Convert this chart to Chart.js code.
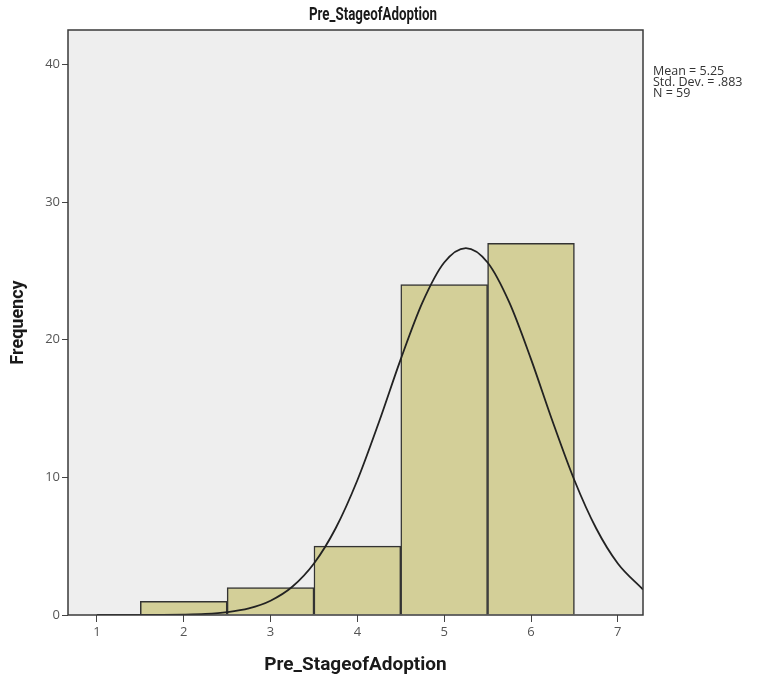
<!DOCTYPE html>
<html>
<head>
<meta charset="utf-8">
<script src="https://cdn.jsdelivr.net/npm/chart.js@4.4.1/dist/chart.umd.min.js"></script>
<style>
  html, body { margin: 0; padding: 0; background: #fff; }
  #wrap { width: 775px; height: 679px; }
</style>
</head>
<body>
<div id="wrap"><canvas id="hist"></canvas></div>
<script>
// histogram bins (midpoints) and counts
var bins = [2, 3, 4, 5, 6];
var counts = [1, 2, 5, 24, 27];

// normal curve
var curveX = [1, 1.5, 2, 2.25, 2.5, 2.75, 3, 3.25, 3.5, 3.75, 4, 4.25, 4.5, 4.75, 5, 5.25, 5.5, 5.75, 6, 6.25, 6.5, 6.75, 7, 7.29];
var curveY = [0, 0, 0.03, 0.08, 0.21, 0.48, 1.04, 2.05, 3.74, 6.30, 9.79, 14.04, 18.59, 22.71, 25.61, 26.66, 25.61, 22.71, 18.59, 14.04, 9.79, 6.30, 3.74, 1.85];

var xTicks = [1, 2, 3, 4, 5, 6, 7];
var yTicks = [0, 10, 20, 30, 40];
var stats = ['Mean = 5.25', 'Std. Dev. = .883', 'N = 59'];

var font = "'Open Sans', 'Noto Sans', sans-serif";

var frame = {
  id: 'frame',
  beforeDraw: function(chart){
    var a = chart.chartArea, ctx = chart.ctx;
    ctx.save();
    ctx.fillStyle = '#eeeeee';
    ctx.fillRect(a.left, a.top, a.right - a.left, a.bottom - a.top);
    ctx.restore();
  },
  afterDraw: function(chart){
    var a = chart.chartArea, ctx = chart.ctx;
    ctx.save();
    ctx.strokeStyle = '#3a3a3a';
    ctx.lineWidth = 1.5;
    ctx.strokeRect(a.left, a.top, a.right - a.left, a.bottom - a.top);
    // title, squeezed a bit like the condensed original
    ctx.fillStyle = '#1a1a1a';
    ctx.font = "bold 18px 'Roboto', sans-serif";
    ctx.textAlign = 'center';
    ctx.textBaseline = 'middle';
    var t = 'Pre_StageofAdoption';
    var sx = 128 / ctx.measureText(t).width;
    ctx.translate(373, 15);
    ctx.scale(sx, 1);
    ctx.fillText(t, 0, 0);
    ctx.setTransform(1, 0, 0, 1, 0, 0);
    // stats
    ctx.font = "12.5px " + font;
    ctx.fillStyle = '#333';
    ctx.textAlign = 'left';
    for (var i = 0; i < stats.length; i++) ctx.fillText(stats[i], 653, 71 + i * 11);
    ctx.restore();
  }
};

new Chart(document.getElementById('hist'), {
  type: 'bar',
  data: {
    datasets: [{
      type: 'line',
      data: curveX.map(function(x, i){ return {x: x, y: curveY[i]}; }),
      borderColor: '#222',
      borderWidth: 1.8,
      pointRadius: 0,
      cubicInterpolationMode: 'monotone',
      fill: false,
      order: 0
    }, {
      data: bins.map(function(x, i){ return {x: x, y: counts[i]}; }),
      backgroundColor: '#d3cf98',
      borderColor: '#333',
      borderWidth: 1.5,
      barPercentage: 1,
      categoryPercentage: 1,
      grouped: false,
      order: 1
    }]
  },
  plugins: [frame],
  options: {
    responsive: true,
    maintainAspectRatio: false,
    animation: false,
    layout: { padding: { top: 30, right: 132, left: 0, bottom: 0 } },
    plugins: { legend: { display: false }, tooltip: { enabled: false } },
    scales: {
      x: {
        type: 'linear',
        offset: false,
        min: 0.667, max: 7.29,
        afterBuildTicks: function(s){ s.ticks = xTicks.map(function(v){ return {value: v}; }); },
        afterFit: function(s){ s.height = 64; },
        grid: { offset: false, drawOnChartArea: false, color: '#444', tickLength: 7 },
        border: { display: false },
        ticks: { color: '#555', font: { size: 13, family: font }, padding: 2, maxRotation: 0 },
        title: { display: true, text: 'Pre_StageofAdoption', color: '#1a1a1a',
                 font: { size: 19, weight: 'bold', family: "'Roboto', sans-serif" }, padding: { top: 6, bottom: 2 } }
      },
      y: {
        min: 0, max: 42.5,
        afterBuildTicks: function(s){ s.ticks = yTicks.map(function(v){ return {value: v}; }); },
        afterFit: function(s){ s.width = 68; },
        grid: { drawOnChartArea: false, color: '#444', tickLength: 6 },
        border: { display: false },
        ticks: { color: '#555', font: { size: 13, family: font }, padding: 2 },
        title: { display: true, text: 'Frequency', color: '#1a1a1a',
                 font: { size: 18, weight: 'bold', family: "'Roboto', sans-serif" }, padding: { top: 8, bottom: 0 } }
      }
    }
  }
});
</script>
</body>
</html>
